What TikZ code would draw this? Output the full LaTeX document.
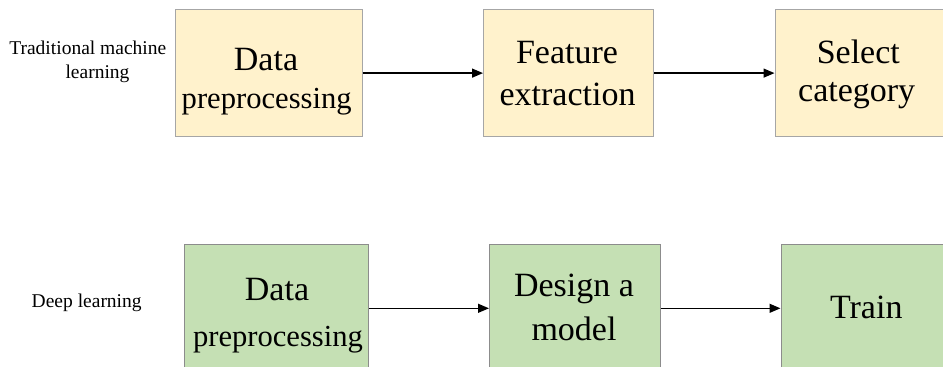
\documentclass[tikz,border=0pt]{standalone}
\usepackage{fontspec}
\setmainfont{Liberation Serif}
\usetikzlibrary{arrows.meta}

\definecolor{tradfill}{HTML}{FFF2CC}
\definecolor{tradline}{HTML}{A6A6A6}
\definecolor{deepfill}{HTML}{C5E0B4}
\definecolor{deepline}{HTML}{8C8C8C}

\tikzset{
  stagebox/.style={inner sep=0pt, line width=1pt, minimum width=#1},
  tradbox/.style={stagebox=#1, draw=tradline, fill=tradfill, minimum height=127.2pt},
  deepbox/.style={stagebox=#1, draw=deepline, fill=deepfill, minimum height=128.6pt},
  boxline/.style={anchor=base, inner sep=0pt, font=\fontsize{34}{40}\selectfont},
  boxlinesmall/.style={anchor=base, inner sep=0pt, font=\fontsize{30.6}{36}\selectfont},
  rowlabel/.style={anchor=base, inner sep=0pt, font=\fontsize{19.5}{23}\selectfont},
  flow/.style={line width=1.3pt, -{Triangle[length=11pt,width=9pt]}}
}

\begin{document}
\begin{tikzpicture}[x=1pt, y=-1pt]
  \useasboundingbox (0,0) rectangle (943,367);

  % Traditional machine learning pipeline
  \node[rowlabel] (tradA) at (87.8,54.3) {Traditional machine};
  \node[rowlabel] (tradB) at (97.5,78.7) {learning};

  \node[tradbox=187pt] (b1) at (268.5,73.1) {};
  \node[tradbox=170pt] (b2) at (568.5,73.1) {};
  \node[tradbox=171pt] (b3) at (860.5,73.1) {};

  \node[boxline]      (b1a) at (266,70)      {Data};
  \node[boxlinesmall] (b1b) at (266.7,108.3) {preprocessing};
  \node[boxline]      (b2a) at (567,63.3)    {Feature};
  \node[boxline]      (b2b) at (567.5,105)   {extraction};
  \node[boxline]      (b3a) at (858.3,63.3)  {Select};
  \node[boxline]      (b3b) at (856.7,101.7) {category};

  \draw[flow] (b1) -- (b2);
  \draw[flow] (b2) -- (b3);

  % Deep learning pipeline
  \node[rowlabel] (deepA) at (86.7,307.3) {Deep learning};

  \node[deepbox=184.5pt] (b4) at (276.25,308.3) {};
  \node[deepbox=171pt]   (b5) at (575,308.3) {};
  \node[deepbox=171pt]   (b6) at (866.5,308.3) {};

  \node[boxline]      (b4a) at (277,300)   {Data};
  \node[boxlinesmall] (b4b) at (278,346)   {preprocessing};
  \node[boxline]      (b5a) at (574,296.7) {Design a};
  \node[boxline]      (b5b) at (574,340)   {model};
  \node[boxline]      (b6a) at (866.3,318.3) {Train};

  \draw[flow] (b4) -- (b5);
  \draw[flow] (b5) -- (b6);
\end{tikzpicture}
\end{document}
